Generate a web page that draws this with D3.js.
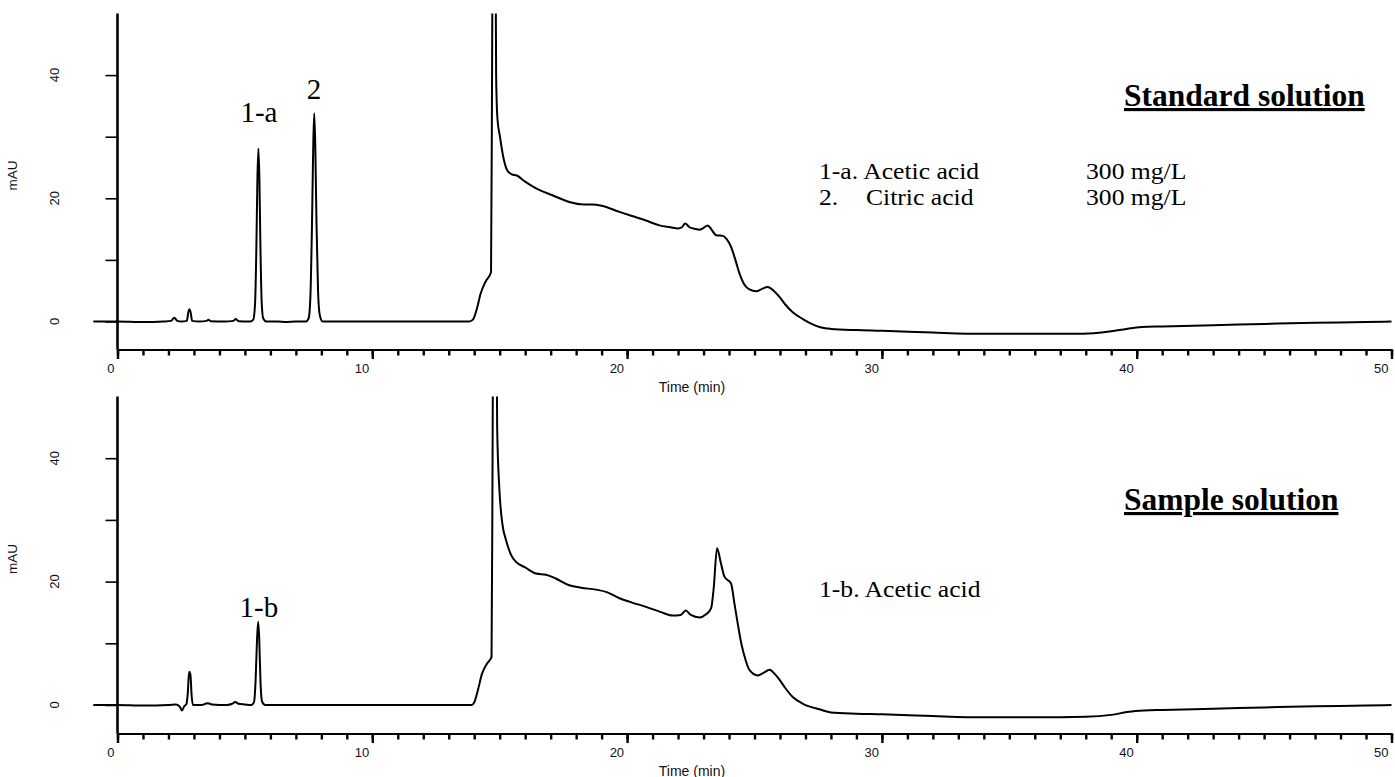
<!DOCTYPE html>
<html>
<head>
<meta charset="utf-8">
<script src="https://cdn.jsdelivr.net/npm/d3@7"></script>
<style>
  html, body { margin: 0; padding: 0; background: #fff; }
  svg { display: block; }
</style>
</head>
<body>
<svg id="chart" width="1395" height="777"></svg>
<script>
// ---------- DATA ----------
const xTickMajor = [0, 10, 20, 30, 40, 50];
const xTickMinor = d3.range(0, 51, 1);
const yTicks = [0, 10, 20, 30, 40];
const yTickLabels = [0, 20, 40];

// Standard solution trace: time (min), absorbance (mAU)
const stdTime = [-0.95, 0, 1.0, 1.8, 2.1, 2.23, 2.35, 2.5, 2.72, 2.78, 2.82, 2.87, 2.93, 3.2, 3.5, 3.57, 3.65, 4.2, 4.55, 4.64, 4.75, 5.2,
  5.33, 5.4, 5.45, 5.49, 5.53, 5.57, 5.61, 5.66, 5.72, 5.85, 6.3, 6.6, 7.0, 7.4,
  7.5, 7.57, 7.63, 7.68, 7.72, 7.76, 7.81, 7.87, 7.94, 8.05, 9.0, 10.5, 12.0, 13.0, 13.8,
  13.95, 14.1, 14.25, 14.45, 14.66, 14.7, 14.75, 14.8, 14.86, 14.91, 15.01, 15.14, 15.3, 15.47, 15.67,
  16.0, 16.43, 17.07, 17.73, 18.3, 18.64, 19.0, 19.7, 20.3, 20.74, 21.27, 21.7, 22.0, 22.15, 22.28, 22.45, 22.7, 22.84,
  23.0, 23.17, 23.3, 23.5, 23.76, 23.9, 24.08, 24.25, 24.41, 24.6, 24.8, 25.07, 25.3, 25.52, 25.75, 25.98, 26.2, 26.5,
  26.9, 27.2, 27.55, 28.0, 29.0, 30.0, 32.0, 34.0, 36.0, 37.5, 38.3, 39.0, 39.6, 40.2, 41.0, 43.0, 45.0, 47.0, 49.0, 50.0];
const stdValue = [0, 0, -0.1, 0, 0.1, 0.6, 0.1, 0, 0.1, 1.5, 2.0, 1.5, 0.1, 0, 0.1, 0.3, 0.05, 0, 0.1, 0.4, 0.05, 0,
  0.3, 3, 12, 23, 28.1, 23, 12, 3, 0.5, 0, 0, -0.1, 0, 0,
  0.5, 4, 15, 28, 33.8, 29, 16, 5, 1, 0, 0, 0, 0, 0, 0,
  0.3, 2, 4.5, 6.5, 8, 40, 90, 90, 40, 33, 30, 26.7, 24.5, 23.9, 23.7,
  22.7, 21.6, 20.5, 19.4, 19.0, 19.0, 18.8, 17.8, 17.0, 16.4, 15.6, 15.3, 15.1, 15.3, 15.9, 15.3, 15.0, 14.9,
  15.2, 15.6, 15.0, 14.0, 13.9, 13.4, 12.1, 10.0, 7.8, 6.0, 5.2, 4.9, 5.3, 5.6, 5.0, 4.0, 2.8, 1.5,
  0.4, -0.3, -0.9, -1.2, -1.4, -1.5, -1.8, -2.0, -2.0, -2.0, -1.9, -1.6, -1.2, -0.9, -0.8, -0.6, -0.4, -0.2, -0.1, 0];

// Sample solution trace
const sampleTime = [-0.95, 0, 1.0, 2.0, 2.3, 2.45, 2.53, 2.62, 2.7, 2.76, 2.81, 2.86, 2.91, 2.96, 3.3, 3.45, 3.55, 3.7, 4.3, 4.5, 4.62, 4.75, 5.0, 5.25,
  5.36, 5.42, 5.47, 5.52, 5.56, 5.61, 5.67, 5.8, 7.0, 9.0, 11.0, 13.0, 13.9,
  14.0, 14.15, 14.3, 14.5, 14.68, 14.72, 14.77, 14.84, 14.9, 14.99, 15.1, 15.25, 15.45, 15.64,
  16.0, 16.43, 16.82, 17.2, 17.73, 18.2, 18.78, 19.2, 19.7, 20.2, 20.74, 21.3, 21.79, 22.1, 22.3, 22.5, 22.84,
  23.1, 23.3, 23.4, 23.53, 23.68, 23.82, 24.08, 24.21, 24.35, 24.48, 24.65, 24.8, 25.13, 25.35, 25.59, 25.8, 25.98, 26.2, 26.5,
  26.9, 27.2, 27.55, 28.0, 29.0, 30.0, 32.0, 34.0, 36.0, 38.0, 39.0, 39.7, 40.3, 41.0, 43.0, 45.0, 47.0, 49.0, 50.0];
const sampleValue = [0, 0, -0.1, 0, 0.1, -0.3, -0.9, -0.2, 0.1, 2, 5.4, 5.0, 1.5, 0, 0, 0.2, 0.3, 0.1, 0, 0.2, 0.5, 0.2, 0.1, 0,
  0.5, 4, 10, 13.5, 11, 4, 0.6, 0, 0, 0, 0, 0, 0,
  0.4, 2.5, 5, 6.7, 7.8, 40, 90, 90, 45, 34.8, 29.5, 26.7, 24.3, 23.2,
  22.3, 21.3, 21.1, 20.5, 19.4, 19.0, 18.7, 18.3, 17.3, 16.6, 15.9, 15.1, 14.5, 14.6, 15.3, 14.6, 14.2,
  14.7, 15.7, 19, 25.4, 23, 20.8, 19.7, 16.5, 13, 10.0, 7.3, 5.7, 4.8, 5.2, 5.7, 5.0, 4.1, 2.8, 1.3,
  0.2, -0.3, -0.7, -1.2, -1.4, -1.5, -1.8, -2.0, -2.0, -1.9, -1.6, -1.1, -0.9, -0.8, -0.6, -0.4, -0.2, -0.1, 0];

// Peak labels: anchor time (min) and the mAU level of the label baseline
const peakLabelsStd = [{ t: 5.55, v: 32.4, label: "1-a" }, { t: 7.71, v: 36.2, label: "2" }];
const peakLabelsSample = [{ t: 5.55, v: 14.2, label: "1-b" }];

// ---------- DRAWING ----------
const svg = d3.select("#chart");
const x = d3.scaleLinear().domain([0, 50]).range([117.5, 1391.5]);

const sans = "'Liberation Sans', Arial, sans-serif";
const serif = "'Liberation Serif', 'Times New Roman', serif";

function panel(id, yZero, yTop, axisY, times, values, peaks) {
  const y = d3.scaleLinear().domain([0, 50]).range([yZero, yTop]);
  const g = svg.append("g");

  g.append("clipPath").attr("id", "clip" + id)
    .append("rect").attr("x", 0).attr("y", yTop).attr("width", 1395).attr("height", axisY - yTop);

  // x axis minor ticks
  const minor = g.append("g").attr("transform", `translate(0,${axisY})`)
    .call(d3.axisBottom(x).tickValues(xTickMinor).tickSize(6).tickSizeOuter(0).tickFormat(""));
  minor.select(".domain").attr("stroke-width", 2);
  minor.selectAll(".tick line").attr("stroke-width", 2.4);

  // x axis major ticks + labels
  const major = g.append("g").attr("transform", `translate(0,${axisY})`)
    .call(d3.axisBottom(x).tickValues(xTickMajor).tickSize(9.5).tickSizeOuter(0).tickFormat(d3.format("d")));
  major.select(".domain").remove();
  major.selectAll(".tick line").attr("stroke-width", 2.4);
  major.selectAll(".tick text")
    .attr("text-anchor", "end").attr("x", -3.5).attr("y", 23.5).attr("dy", 0)
    .attr("font-family", sans).attr("font-size", 13).attr("fill", "#111");

  g.append("text").attr("x", 692).attr("y", axisY + 42)
    .attr("text-anchor", "middle").attr("font-family", sans).attr("font-size", 14)
    .attr("fill", "#111").text("Time (min)");

  // y axis
  const yAx = g.append("g").attr("transform", `translate(${x(0)},0)`)
    .call(d3.axisLeft(y).tickValues(yTicks).tickSize(12).tickSizeOuter(0).tickFormat(""));
  yAx.select(".domain").remove();
  yAx.selectAll(".tick line").attr("stroke-width", 1.6);
  g.append("line").attr("x1", x(0)).attr("x2", x(0)).attr("y1", yTop).attr("y2", axisY)
    .attr("stroke", "#000").attr("stroke-width", 2.6);

  g.selectAll(".ylab").data(yTickLabels).enter().append("text")
    .attr("transform", d => `translate(59,${y(d)}) rotate(-90)`)
    .attr("text-anchor", "middle").attr("font-family", sans).attr("font-size", 13)
    .attr("fill", "#111").text(d => d);

  g.append("text")
    .attr("transform", `translate(16.5,${(yTop + axisY) / 2 - 6}) rotate(-90)`)
    .attr("text-anchor", "middle").attr("font-family", sans).attr("font-size", 13.5)
    .attr("fill", "#111").text("mAU");

  // trace
  const pts = times.map((t, i) => [t, values[i]]);
  const line = d3.line().x(d => x(d[0])).y(d => y(d[1])).curve(d3.curveMonotoneX);
  g.append("path").datum(pts)
    .attr("clip-path", `url(#clip${id})`)
    .attr("d", line).attr("fill", "none").attr("stroke", "#000")
    .attr("stroke-width", 2).attr("stroke-linejoin", "round");

  // peak labels
  g.selectAll(".pk").data(peaks).enter().append("text")
    .attr("x", d => x(d.t)).attr("y", d => y(d.v))
    .attr("text-anchor", "middle").attr("font-family", serif).attr("font-size", 29)
    .attr("fill", "#000").text(d => d.label);
  return { g, y };
}

const panelStd = panel("A", 321.5, 13.5, 349.5, stdTime, stdValue, peakLabelsStd);
const panelSample = panel("B", 705, 396.5, 733.5, sampleTime, sampleValue, peakLabelsSample);

// Titles (bold, underlined)
function title(txt, yy) {
  svg.append("text").attr("x", 1124).attr("y", yy)
    .attr("font-family", serif).attr("font-weight", "bold").attr("font-size", 31.5)
    .attr("text-decoration", "underline").attr("fill", "#000").text(txt);
}
title("Standard solution", 106);
title("Sample solution", 510);

// Notes (slightly wide serif text as in the reference)
function note(txt, xx, yy) {
  svg.append("text").attr("transform", `translate(${xx},${yy}) scale(1.14,1)`)
    .attr("font-family", serif).attr("font-size", 22.5).attr("fill", "#000").text(txt);
}
note("1-a. Acetic acid", 819, 179);
note("300 mg/L", 1086, 179);
note("2.", 819, 205);
note("Citric acid", 866, 205);
note("300 mg/L", 1086, 205);
note("1-b. Acetic acid", 819, 597);
</script>
</body>
</html>
